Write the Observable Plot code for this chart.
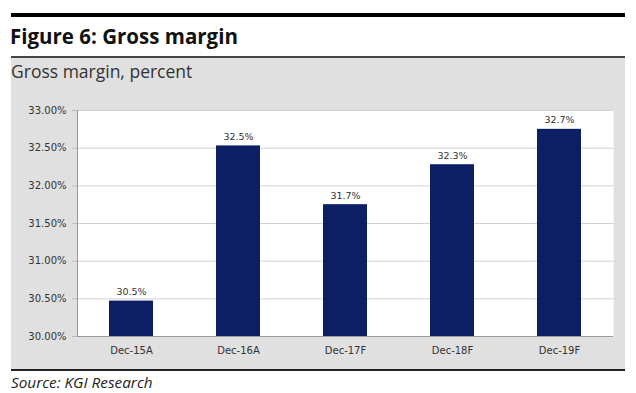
<!DOCTYPE html>
<html>
<head>
<meta charset="utf-8">
<script src="https://cdn.jsdelivr.net/npm/d3@7"></script>
<script src="https://cdn.jsdelivr.net/npm/@observablehq/plot@0.6"></script>
<style>
  html, body { margin: 0; padding: 0; background: #fff; width: 636px; height: 393px; overflow: hidden; }
  #wrap { position: relative; width: 636px; height: 393px; font-family: "Open Sans", "Noto Sans", sans-serif; }
  .thick { position: absolute; left: 11px; top: 13px; width: 614px; height: 4px; background: #000; }
  .title { position: absolute; left: 10px; top: 23px; font-size: 20.5px; font-weight: 700; color: #111; line-height: 26px; white-space: nowrap; }
  .thin { position: absolute; left: 11px; top: 56px; width: 614px; height: 2px; background: #444; }
  .panel { position: absolute; left: 11px; top: 58px; width: 614px; height: 311px; background: #e0e0e0; }
  .subtitle { position: absolute; left: 11px; top: 59px; font-size: 17.5px; color: #333; line-height: 24px; white-space: nowrap; }
  #chart { position: absolute; left: 11px; top: 90px; }
  .bottom { position: absolute; left: 11px; top: 369px; width: 614px; height: 2px; background: #222; }
  .source { position: absolute; left: 11px; top: 372px; font-size: 15.3px; font-style: italic; color: #222; line-height: 21px; white-space: nowrap; }
</style>
</head>
<body>
<div id="wrap">
  <div class="thick"></div>
  <div class="title">Figure 6: Gross margin</div>
  <div class="thin"></div>
  <div class="panel"></div>
  <div class="subtitle">Gross margin, percent</div>
  <div id="chart"></div>
  <div class="bottom"></div>
  <div class="source">Source: KGI Research</div>
</div>
<script>
const categories = ["Dec-15A", "Dec-16A", "Dec-17F", "Dec-18F", "Dec-19F"];
const values = [30.47, 32.53, 31.75, 32.28, 32.75];
const labels = ["30.5%", "32.5%", "31.7%", "32.3%", "32.7%"];
const yTicks = [30, 30.5, 31, 31.5, 32, 32.5, 33];

const data = categories.map((c, i) => ({cat: c, value: values[i], label: labels[i]}));

const chart = Plot.plot({
  width: 614,
  height: 275,
  marginLeft: 66,
  marginRight: 12,
  marginTop: 20,
  marginBottom: 29,
  style: { fontFamily: "'DejaVu Sans', sans-serif", fontSize: "10px", color: "#333", background: "transparent" },
  x: { domain: categories, paddingInner: 0.59, paddingOuter: 0.295, label: null },
  y: { domain: [30, 33], label: null },
  marks: [
    Plot.frame({ fill: "#fff", stroke: null }),
    Plot.gridY(yTicks, { stroke: "#d2d2d2", strokeOpacity: 1 }),
    Plot.axisY(yTicks, { tickFormat: d => d.toFixed(2) + "%", tickSize: 5, tickPadding: 6, stroke: "#bbb", fontSize: 10, fill: "#333" }),
    Plot.axisX({ tickSize: 0, tickPadding: 10, fontSize: 10, fill: "#333" }),
    Plot.barY(data, { x: "cat", y1: 30, y2: "value", fill: "#0c1e64" }),
    Plot.text(data, { x: "cat", y: "value", text: "label", dy: -9, fontSize: 9.5, fill: "#333" }),
    Plot.frame({ anchor: "left", stroke: "#999" }),
    Plot.ruleY([30], { stroke: "#999" })
  ]
});
document.getElementById("chart").appendChild(chart);
</script>
</body>
</html>
